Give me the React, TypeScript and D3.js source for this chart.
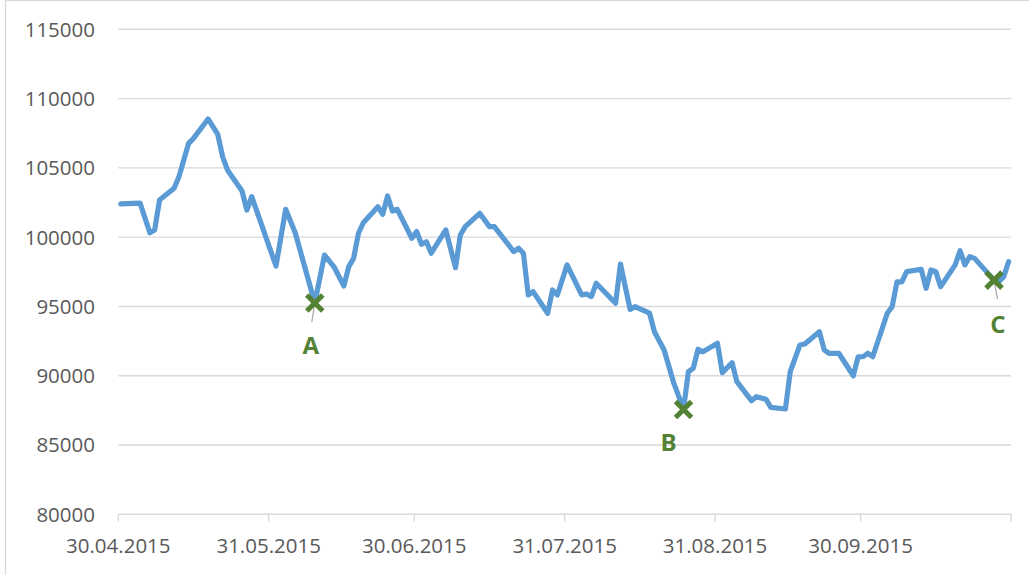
import React from "react";
import * as d3 from "d3";

// ---- data ----
const dates: string[] = [
  "2015-04-30","2015-05-04","2015-05-06","2015-05-07","2015-05-08","2015-05-11","2015-05-12","2015-05-14","2015-05-15","2015-05-18",
  "2015-05-20","2015-05-21","2015-05-22","2015-05-25","2015-05-26","2015-05-27","2015-06-01","2015-06-03","2015-06-05","2015-06-09",
  "2015-06-11","2015-06-13","2015-06-15","2015-06-16","2015-06-17","2015-06-18","2015-06-19","2015-06-22","2015-06-23","2015-06-24",
  "2015-06-25","2015-06-26","2015-06-29","2015-06-30","2015-07-01","2015-07-02","2015-07-03","2015-07-06","2015-07-08","2015-07-09",
  "2015-07-10","2015-07-13","2015-07-15","2015-07-16","2015-07-20","2015-07-21","2015-07-22","2015-07-23","2015-07-24","2015-07-27",
  "2015-07-28","2015-07-29","2015-07-31","2015-08-03","2015-08-04","2015-08-05","2015-08-06","2015-08-10","2015-08-11","2015-08-13",
  "2015-08-14","2015-08-17","2015-08-18","2015-08-20","2015-08-22","2015-08-24","2015-08-25","2015-08-26","2015-08-27","2015-08-28",
  "2015-08-31","2015-09-01","2015-09-03","2015-09-04","2015-09-07","2015-09-08","2015-09-10","2015-09-11","2015-09-14","2015-09-15",
  "2015-09-17","2015-09-18","2015-09-21","2015-09-22","2015-09-23","2015-09-25","2015-09-28","2015-09-29","2015-09-30","2015-10-01",
  "2015-10-02","2015-10-05","2015-10-06","2015-10-07","2015-10-08","2015-10-09","2015-10-12","2015-10-13","2015-10-14","2015-10-15",
  "2015-10-16","2015-10-19","2015-10-20","2015-10-21","2015-10-22","2015-10-23","2015-10-27","2015-10-28","2015-10-29","2015-10-30",
];

const values: number[] = [
  102400,102450,100320,100520,102680,103530,104360,106770,107130,108530,
  107420,105810,104850,103330,101960,102920,97920,102010,100280,95250,
  98710,97830,96480,97870,98470,100280,101040,102200,101650,102970,
  101890,102010,99920,100400,99490,99670,98840,100520,97800,100160,
  100760,101720,100760,100760,98960,99200,98840,95830,96070,94510,
  96190,95830,98000,95830,95900,95710,96670,95230,98060,94790,
  94980,94510,93180,91860,89460,87570,90290,90530,91910,91730,
  92340,90220,90940,89570,88200,88490,88300,87720,87600,90290,
  92220,92290,93180,91860,91620,91620,90000,91370,91370,91620,
  91370,94510,94980,96780,96780,97510,97680,96310,97630,97510,
  96430,98000,99020,98000,98590,98470,96900,96780,97150,98230,
];

const markerLabels: string[] = ["A", "B", "C"];
const markerDates: string[] = ["2015-06-09", "2015-08-24", "2015-10-27"];
const markerValues: number[] = [95250, 87570, 96900];

const yTicks: number[] = [80000, 85000, 90000, 95000, 100000, 105000, 110000, 115000];
const xTickDates: string[] = ["2015-04-30","2015-05-31","2015-06-30","2015-07-31","2015-08-31","2015-09-30","2015-10-31"];
const xTickLabels: string[] = ["30.04.2015","31.05.2015","30.06.2015","31.07.2015","31.08.2015","30.09.2015",""];

const parse = d3.timeParse("%Y-%m-%d");

export default function App() {
  const W = 1029, H = 575;
  const x = d3.scaleTime()
    .domain([parse("2015-04-30") as Date, parse("2015-10-31") as Date])
    .range([118.3, 1011]);
  const y = d3.scaleLinear().domain([80000, 115000]).range([514.3, 29.3]);
  // points sit in the middle of their day slot (date axis, "between tick marks")
  const xp = (s: string) => x(d3.timeHour.offset(parse(s) as Date, 12));

  const pts = dates.map((d, i) => ({ d, v: values[i] }));
  const line = d3.line<{ d: string; v: number }>().x(p => xp(p.d)).y(p => y(p.v));

  const font = "'Open Sans', 'Noto Sans', sans-serif";
  const gridColor = "#d9d9d9";
  const green = "#548235";

  const labelDx = [-4, -15, 4];
  const labelDy = [51, 42, 53];
  const leader = [true, false, true];

  return (
    <svg width={W} height={H} style={{ position: "absolute", left: 0, top: 0, background: "#fff" }}>
      <rect x={0} y={0} width={W} height={H} fill="#fff" />
      <rect x={5.5} y={0.5} width={1040} height={600} fill="none" stroke={gridColor} strokeWidth={1.3} />
      {yTicks.map(t => (
        <g key={t}>
          <line x1={118.3} x2={1011} y1={y(t)} y2={y(t)} stroke={gridColor} strokeWidth={1.4} />
          <text x={95} y={y(t)} dy="0.36em" textAnchor="end" fontFamily={font} fontSize={20.5} fill="#595959">{t}</text>
        </g>
      ))}
      {xTickDates.map((d, i) => {
        const xx = x(parse(d) as Date);
        return (
          <g key={d}>
            <line x1={xx} x2={xx} y1={y(80000)} y2={y(80000) + 7.5} stroke={gridColor} strokeWidth={1.4} />
            {xTickLabels[i] && (
              <text x={xx} y={553.3} textAnchor="middle" fontFamily={font} fontSize={20.5} fill="#595959">{xTickLabels[i]}</text>
            )}
          </g>
        );
      })}
      <path d={line(pts) || ""} fill="none" stroke="#5b9bd5" strokeWidth={5.2} strokeLinejoin="round" strokeLinecap="round" />
      {markerLabels.map((lab, i) => {
        const mx = xp(markerDates[i]);
        const my = y(markerValues[i]);
        return (
          <g key={lab}>
            {leader[i] && (
              <line x1={mx} y1={my} x2={mx + (i === 0 ? -3 : 3.5)} y2={my + 19} stroke="#a6a6a6" strokeWidth={1.2} />
            )}
            <line x1={mx - 8} y1={my - 8} x2={mx + 8} y2={my + 8} stroke={green} strokeWidth={5} />
            <line x1={mx - 8} y1={my + 8} x2={mx + 8} y2={my - 8} stroke={green} strokeWidth={5} />
            <text x={mx + labelDx[i]} y={my + labelDy[i]} textAnchor="middle" fontFamily={font} fontWeight="bold" fontSize={24} fill={green}>{lab}</text>
          </g>
        );
      })}
    </svg>
  );
}
